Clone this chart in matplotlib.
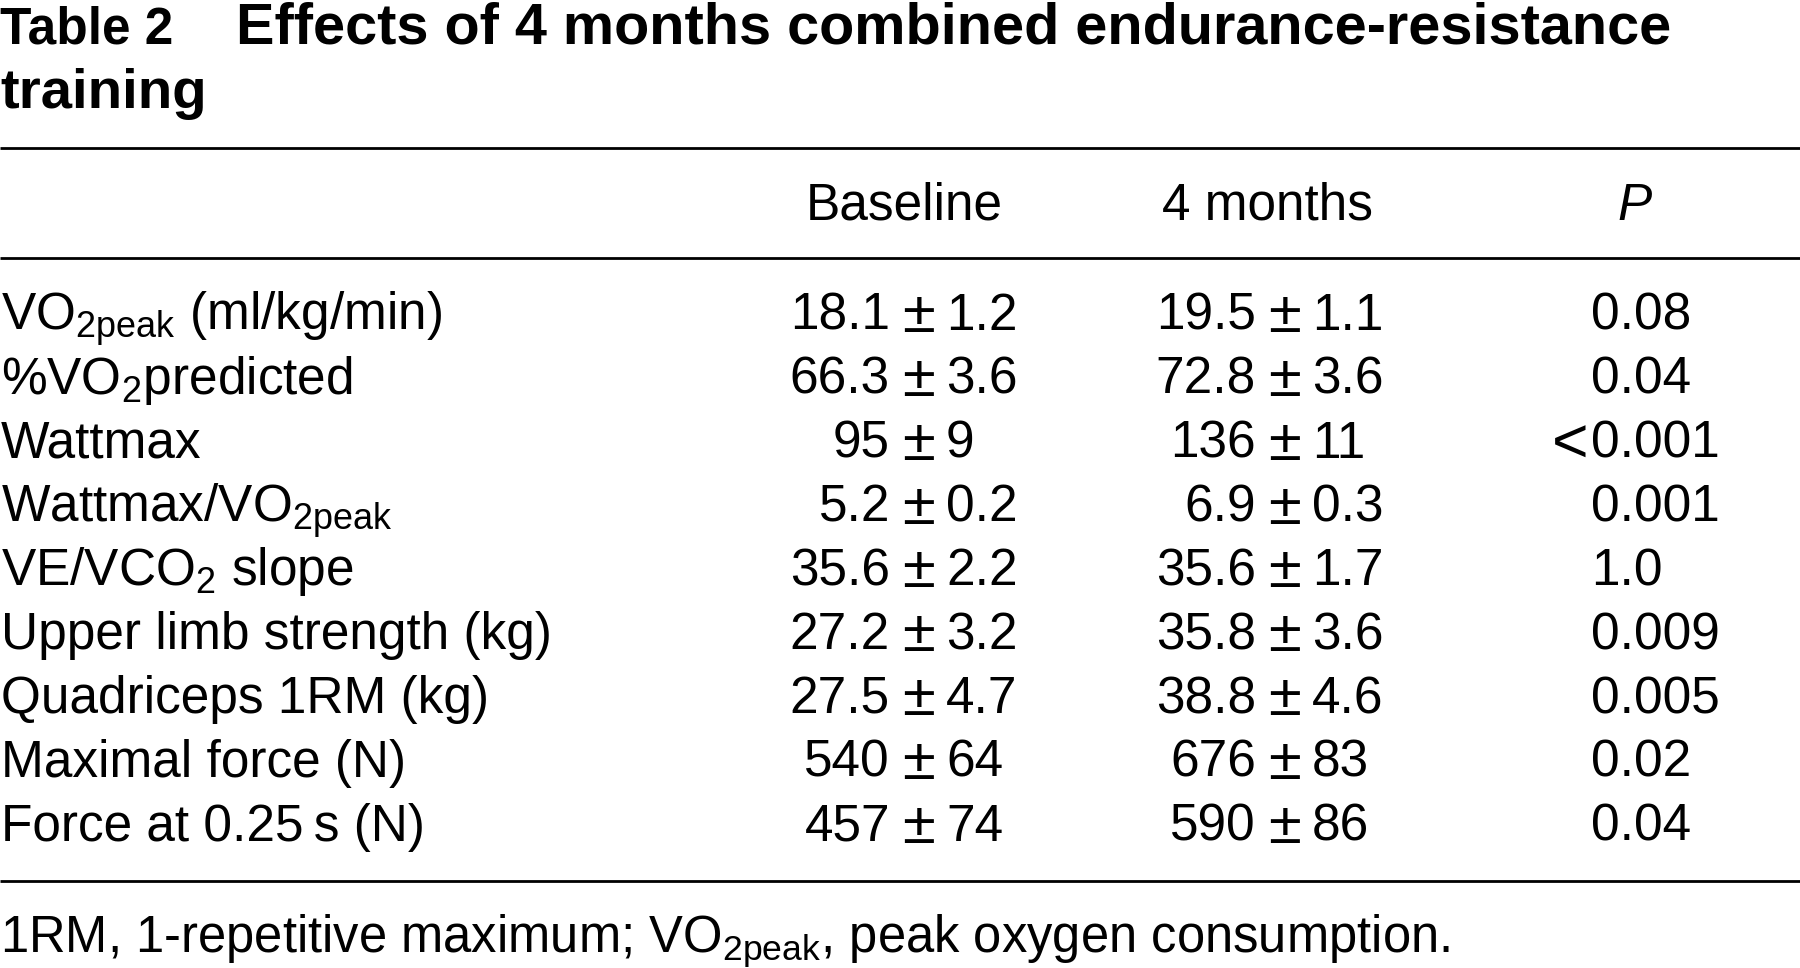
import matplotlib
matplotlib.use('Agg')
import matplotlib.pyplot as plt

plt.rcParams['font.family'] = ['Liberation Sans', 'DejaVu Sans']
plt.rcParams['mathtext.fontset'] = 'custom'
plt.rcParams['mathtext.rm'] = 'Liberation Sans'
plt.rcParams['mathtext.it'] = 'Liberation Sans:italic'
plt.rcParams['mathtext.bf'] = 'Liberation Sans:bold'

# table content
TITLE_TAG = 'Table 2'
TITLE_LINES = ['Effects of 4 months combined endurance-resistance', 'training']
HEADERS = ['Baseline', '4 months', 'P']
LABELS = [r'VO$_\mathrm{2peak}$ (ml/kg/min)',
          r'%VO$_2$predicted',
          'Wattmax',
          r'Wattmax/VO$_\mathrm{2peak}$',
          r'VE/VCO$_2$ slope',
          'Upper limb strength (kg)',
          'Quadriceps 1RM (kg)',
          'Maximal force (N)',
          'Force at 0.25\u2009s (N)']
baseline_mean = ['18.1', '66.3', '95', '5.2', '35.6', '27.2', '27.5', '540', '457']
baseline_sd = ['1.2', '3.6', '9', '0.2', '2.2', '3.2', '4.7', '64', '74']
month4_mean = ['19.5', '72.8', '136', '6.9', '35.6', '35.8', '38.8', '676', '590']
month4_sd = ['1.1', '3.6', '11', '0.3', '1.7', '3.6', '4.6', '83', '86']
p_values = ['0.08', '0.04', '<0.001', '0.001', '1.0', '0.009', '0.005', '0.02', '0.04']
FOOTNOTE = r'1RM, 1-repetitive maximum; VO$_\mathrm{2peak}$, peak oxygen consumption.'

W, H = 1800, 968
FS = 37

fig = plt.figure(figsize=(W / 100, H / 100), dpi=100)
ax = fig.add_axes([0, 0, 1, 1])
ax.set_xlim(0, W)
ax.set_ylim(H, 0)
ax.axis('off')

# title
ax.text(0, 43, TITLE_TAG, fontsize=37, fontweight='bold', va='baseline', ha='left')
ax.text(236, 43, TITLE_LINES[0], fontsize=41.5, fontweight='bold', va='baseline', ha='left')
ax.text(0, 108, TITLE_LINES[1], fontsize=40.5, fontweight='bold', va='baseline', ha='left')

# rules
ax.hlines([148, 258, 881], 0, W, colors='black', lw=2)

# header
ax.text(904, 220, HEADERS[0], fontsize=FS, va='baseline', ha='center')
ax.text(1268, 220, HEADERS[1], fontsize=FS, va='baseline', ha='center')
ax.text(1635, 220, HEADERS[2], fontsize=FS, va='baseline', ha='center', style='italic')

# body
ROW0 = 330
ROWSTEP = 63.85
for i, lab in enumerate(LABELS):
    y = ROW0 + i * ROWSTEP
    ax.text(1, y, lab, fontsize=FS, va='baseline', ha='left')
    for pm, mean, sd in [(918, baseline_mean[i], baseline_sd[i]),
                         (1284, month4_mean[i], month4_sd[i])]:
        ax.text(pm - 28, y, mean, fontsize=FS, va='baseline', ha='right')
        ax.text(pm, y + 2, '\u00b1', fontsize=43, va='baseline', ha='center')
        ax.text(pm + 28, y, sd, fontsize=FS, va='baseline', ha='left')
    p = p_values[i]
    if p.startswith('<'):
        ax.text(1588, y + 5, '<', fontsize=45, va='baseline', ha='right')
        p = p[1:]
    ax.text(1591, y, p, fontsize=FS, va='baseline', ha='left')

# footnote
ax.text(0, 952, FOOTNOTE, fontsize=36.5, va='baseline', ha='left')

fig.savefig('out.png', dpi=100, facecolor='white')
